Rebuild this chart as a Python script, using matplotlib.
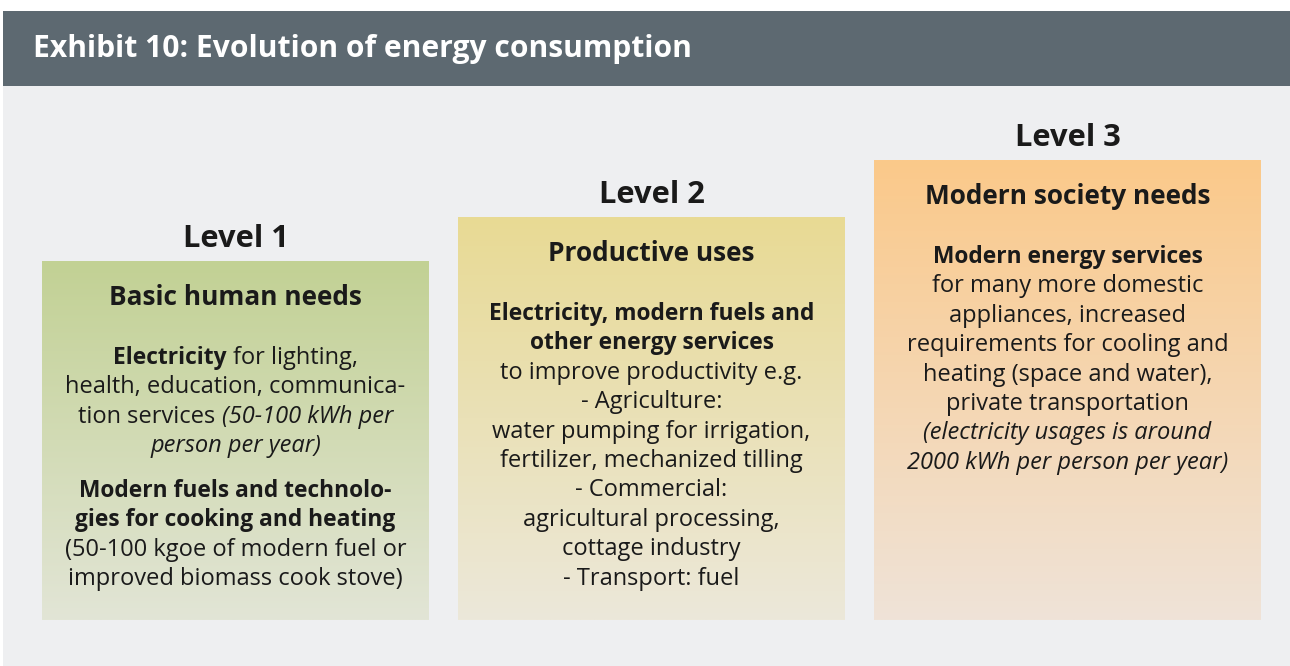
import matplotlib
matplotlib.use("Agg")
import matplotlib.pyplot as plt
import numpy as np
from matplotlib.colors import to_rgb

# ---------------- content ----------------
header_title = "Exhibit 10: Evolution of energy consumption"
level_labels = ["Level 1", "Level 2", "Level 3"]
box_titles = ["Basic human needs", "Productive uses", "Modern society needs"]

# each line is a list of (text, style) segments; style: b=bold, r=regular, i=italic
box1_lines = [
    [("Electricity", "b"), (" for lighting,", "r")],
    [("health, education, communica-", "r")],
    [("tion services ", "r"), ("(50-100 kWh per", "i")],
    [("person per year)", "i")],
    None,  # paragraph gap
    [("Modern fuels and technolo-", "b")],
    [("gies for cooking and heating", "b")],
    [("(50-100 kgoe of modern fuel or", "r")],
    [("improved biomass cook stove)", "r")],
]
box2_lines = [
    [("Electricity, modern fuels and", "b")],
    [("other energy services", "b")],
    [("to improve productivity e.g.", "r")],
    [("- Agriculture:", "r")],
    [("water pumping for irrigation,", "r")],
    [("fertilizer, mechanized tilling", "r")],
    [("- Commercial:", "r")],
    [("agricultural processing,", "r")],
    [("cottage industry", "r")],
    [("- Transport: fuel", "r")],
]
box3_lines = [
    [("Modern energy services", "b")],
    [("for many more domestic", "r")],
    [("appliances, increased", "r")],
    [("requirements for cooling and", "r")],
    [("heating (space and water),", "r")],
    [("private transportation", "r")],
    [("(electricity usages is around", "i")],
    [("2000 kWh per person per year)", "i")],
]
box_lines = [box1_lines, box2_lines, box3_lines]

# ---------------- style / layout ----------------
W, H = 1290, 666
FONT = "Open Sans"
bg_color = "#EEEFF1"
header_color = "#5D6971"
box_top_colors = ["#C2D194", "#E8DA94", "#FBC98A"]
box_bot_colors = ["#E2E5D6", "#ECE8DA", "#EFE3D8"]
box_x = [42, 458, 874]
box_w = 387
box_top = [261, 217, 160]
box_bottom = 620

fs_header = 21.6
fs_level = 22.2
fs_title = 18.9
fs_body = 17.0
bold_scale = 0.965
line_h = 29.4
para_gap = 15.5
text_color = "#1A1A1A"

fig = plt.figure(figsize=(W / 100, H / 100), dpi=100)
fig.patch.set_facecolor("white")
ax = fig.add_axes([0, 0, 1, 1])
ax.set_xlim(0, W)
ax.set_ylim(H, 0)
ax.axis("off")

# background panel
ax.add_patch(plt.Rectangle((3, 86), W - 3, H - 86, color=bg_color, lw=0))
# header band
ax.add_patch(plt.Rectangle((3, 11), W - 3, 75, color=header_color, lw=0))
ax.text(33, 57, header_title, color="white", fontsize=fs_header,
        fontweight="bold", family=FONT, va="baseline", ha="left")

# gradients
for i in range(3):
    c0 = np.array(to_rgb(box_top_colors[i]))
    c1 = np.array(to_rgb(box_bot_colors[i]))
    t = np.linspace(0, 1, 256)[:, None]
    grad = (c0[None, :] * (1 - t) + c1[None, :] * t)[:, None, :]
    ax.imshow(grad, extent=(box_x[i], box_x[i] + box_w, box_bottom, box_top[i]),
              origin="upper", aspect="auto", interpolation="bilinear", zorder=1)
ax.set_xlim(0, W)
ax.set_ylim(H, 0)

renderer = fig.canvas.get_renderer()
style_kw = {"b": dict(fontweight="bold", fontstyle="normal"),
            "r": dict(fontweight="normal", fontstyle="normal"),
            "i": dict(fontweight="normal", fontstyle="italic")}


def seg_fs(st, fs):
    return fs * bold_scale if st == "b" else fs


def text_width(s, st, fs):
    t = ax.text(0, 0, s, fontsize=seg_fs(st, fs), family=FONT, **style_kw[st])
    w = t.get_window_extent(renderer).width
    t.remove()
    return w


def draw_line(segs, cx, y, fs):
    pieces = []
    total = 0.0
    for s, st in segs:
        sp_w = text_width("a a", st, fs) - text_width("aa", st, fs)
        lead = len(s) - len(s.lstrip(" "))
        trail = len(s) - len(s.rstrip(" "))
        core = s.strip(" ")
        w = text_width(core, st, fs)
        pieces.append((core, st, total + lead * sp_w, w))
        total += lead * sp_w + w + trail * sp_w
    x0 = cx - total / 2
    for core, st, off, w in pieces:
        ax.text(x0 + off, y, core, fontsize=seg_fs(st, fs), family=FONT,
                color=text_color, va="baseline", ha="left", zorder=3,
                **style_kw[st])


for i in range(3):
    cx = box_x[i] + box_w / 2
    top = box_top[i]
    ax.text(cx, top - 14, level_labels[i], fontsize=fs_level, fontweight="bold",
            family=FONT, ha="center", va="baseline", color=text_color, zorder=3)
    ax.text(cx, top + 44, box_titles[i], fontsize=fs_title, fontweight="bold",
            family=FONT, ha="center", va="baseline", color=text_color, zorder=3)
    y = top + 103
    for ln in box_lines[i]:
        if ln is None:
            y += para_gap
            continue
        draw_line(ln, cx, y, fs_body)
        y += line_h

fig.savefig("out.png", dpi=100, facecolor=fig.get_facecolor())
